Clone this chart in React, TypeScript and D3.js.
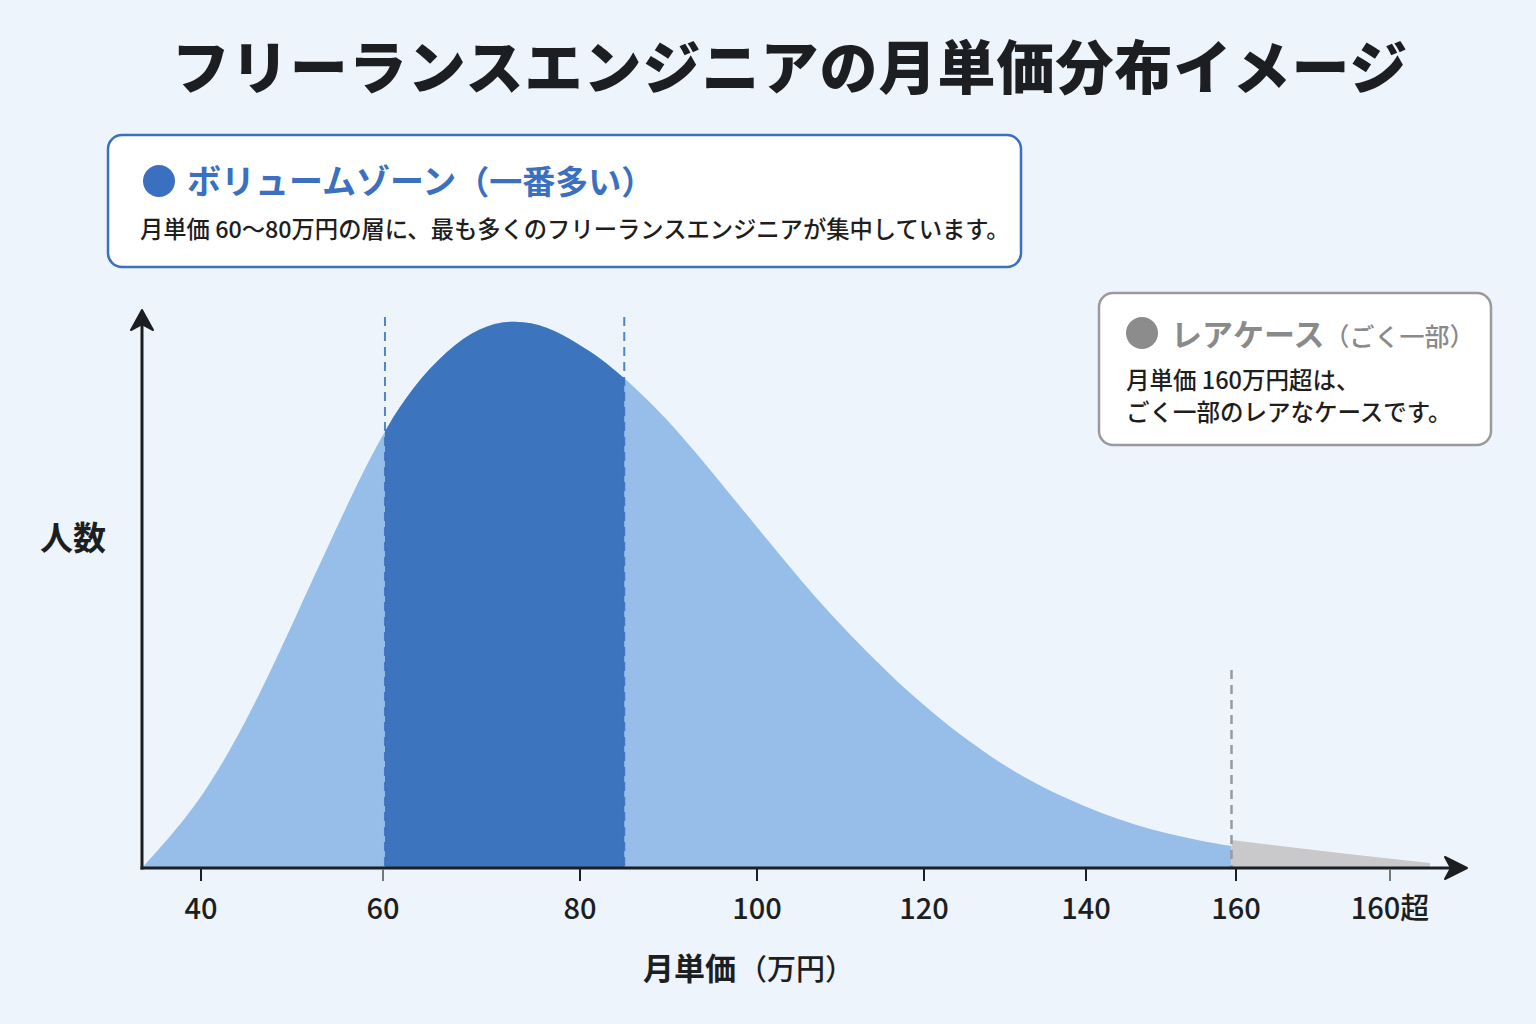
import React from "react";
import * as d3 from "d3";

// ---- data ----
const curveX = [33.5, 35.8, 39.6, 43.2, 46.8, 50.5, 55.6, 57.8, 60.3, 63.0, 66.5, 69.8, 73.2, 76.7, 80.0, 82.3, 85.0, 87.3, 89.8, 93.6, 97.3, 101.2, 105.1, 109.1, 113.2, 117.1, 121.1, 125.3, 129.4, 133.5, 137.7, 141.9, 146.3, 150.8, 155.2, 159.4];
const curveY = [0, 4.2, 11.7, 21.4, 32.9, 46.3, 64.7, 72.4, 80.4, 87.9, 94.7, 98.9, 100.3, 99.1, 95.6, 93.2, 89.6, 86.1, 82.1, 75.0, 67.6, 60.1, 52.8, 45.9, 39.4, 33.6, 28.3, 23.4, 19.2, 15.6, 12.6, 10.1, 8.0, 6.3, 5.0, 4.0];
const rareX = [159.4, 172.6, 185.2];
const rareY = [5.1, 2.9, 0.9];
const tickValues = [40, 60, 80, 100, 120, 140, 160, 180];
const tickLabels = ["40", "60", "80", "100", "120", "140", "160", "160超"];
const volumeRange = [60.2, 85.0];
const rareStart = 159.4;

const title = "フリーランスエンジニアの月単価分布イメージ";
const volTitle = "ボリュームゾーン";
const volSub = "（一番多い）";
const volText = "月単価 60〜80万円の層に、最も多くのフリーランスエンジニアが集中しています。";
const rareTitle = "レアケース";
const rareSub = "（ごく一部）";
const rareLines = ["月単価 160万円超は、", "ごく一部のレアなケースです。"];
const yLabel = "人数";
const xLabel = "月単価";
const xLabelUnit = "（万円）";

const FONT = "'Noto Sans CJK JP', 'Noto Sans', sans-serif";

export default function App() {
  const W = 1536, H = 1024;
  const axisY = 868, axisX = 142;
  const x = d3.scaleLinear().domain(tickValues).range([201, 383, 580, 757, 924, 1086, 1236, 1390]);
  const y = d3.scaleLinear().domain([0, 100]).range([axisY, 321]);

  const pts = curveX.map((v, i) => [v, curveY[i]] as [number, number]);
  const area = d3.area<[number, number]>()
    .x((d) => x(d[0]))
    .y0(axisY)
    .y1((d) => y(d[1]))
    .curve(d3.curveBasis);
  const rarePts = rareX.map((v, i) => [v, rareY[i]] as [number, number]);
  const rareArea = d3.area<[number, number]>()
    .x((d) => x(d[0]))
    .y0(axisY)
    .y1((d) => y(d[1]))
    .curve(d3.curveMonotoneX);

  const vx0 = x(volumeRange[0]);
  const vx1 = x(volumeRange[1]);
  const rx = x(rareStart);

  return (
    <div style={{ position: "fixed", left: 0, top: 0, width: W, height: H }}>
      <svg width={W} height={H} viewBox={`0 0 ${W} ${H}`} style={{ display: "block", fontFamily: FONT }}>
        <rect x={0} y={0} width={W} height={H} fill="#edf4fc" />
        <defs>
          <clipPath id="volClip">
            <rect x={vx0} y={0} width={vx1 - vx0} height={axisY} />
          </clipPath>
        </defs>

        {/* title */}
        <text x={790} y={89} textAnchor="middle" fontSize={58} fontWeight={900} fill="#1c1e22" letterSpacing={1}>
          {title}
        </text>

        {/* volume box */}
        <rect x={108} y={135} width={913} height={132} rx={14} fill="#ffffff" stroke="#3a70bf" strokeWidth={2.5} />
        <circle cx={159} cy={181} r={16} fill="#3a70bf" />
        <text x={187} y={194} fontSize={34} fontWeight={700} fill="#3a70bf">
          {volTitle}
          <tspan fontSize={33}>{volSub}</tspan>
        </text>
        <text x={140} y={238} fontSize={23.3} fontWeight={500} fill="#1e1e1e">{volText}</text>

        {/* rare box */}
        <rect x={1099} y={293} width={392} height={152} rx={14} fill="#ffffff" stroke="#9a9a9a" strokeWidth={2.5} />
        <circle cx={1142} cy={333} r={16} fill="#8c8c8c" />
        <text x={1171} y={346} fontSize={31} fontWeight={700} fill="#8a8a8a">
          {rareTitle}
          <tspan fontSize={25} fontWeight={500}>{rareSub}</tspan>
        </text>
        {rareLines.map((l, i) => (
          <text key={i} x={1126} y={389 + i * 32} fontSize={23.5} fontWeight={500} fill="#1e1e1e">{l}</text>
        ))}

        {/* areas */}
        <path d={area(pts) ?? ""} fill="#96bee9" />
        <path d={area(pts) ?? ""} fill="#3c75bd" clipPath="url(#volClip)" />
        <path d={rareArea(rarePts) ?? ""} fill="#c9c9cb" />

        {/* dashed markers */}
        {[vx0, vx1].map((px, i) => (
          <line key={i} x1={px} x2={px} y1={317} y2={axisY} stroke="#3a70c0" strokeWidth={2} strokeDasharray="9 6" opacity={0.85} />
        ))}
        <line x1={rx} x2={rx} y1={670} y2={axisY} stroke="#9a9a9a" strokeWidth={2.5} strokeDasharray="9 6" />

        {/* axes */}
        <line x1={axisX} x2={axisX} y1={axisY + 1.5} y2={316} stroke="#1c1e22" strokeWidth={3} />
        <path d={`M${axisX},310 L${axisX + 11},330 L${axisX},324 L${axisX - 11},330 Z`} fill="#1c1e22" stroke="#1c1e22" strokeWidth={2} strokeLinejoin="round" />
        <line x1={axisX - 1.5} x2={1460} y1={axisY} y2={axisY} stroke="#1c1e22" strokeWidth={3} />
        <path d={`M1467,${axisY} L1445,${axisY - 11} L1451,${axisY} L1445,${axisY + 11} Z`} fill="#1c1e22" stroke="#1c1e22" strokeWidth={2} strokeLinejoin="round" />

        {/* ticks */}
        {tickValues.map((v, i) => (
          <g key={v} transform={`translate(${x(v)},0)`}>
            <line y1={axisY + 1} y2={axisY + 13} stroke={i === 1 || i === tickValues.length - 1 ? "#777" : "#1c1e22"} strokeWidth={2} />
            <text y={919} textAnchor="middle" fontSize={29} fontWeight={500} fill="#1c1e22">{tickLabels[i]}</text>
          </g>
        ))}

        {/* axis labels */}
        <text x={73} y={550} textAnchor="middle" fontSize={33} fontWeight={700} fill="#1c1e22">{yLabel}</text>
        <text x={643} y={980} fontSize={31} fontWeight={700} fill="#1c1e22">
          {xLabel}
          <tspan fontSize={29} fontWeight={500} dx={2}>{xLabelUnit}</tspan>
        </text>
      </svg>
    </div>
  );
}
